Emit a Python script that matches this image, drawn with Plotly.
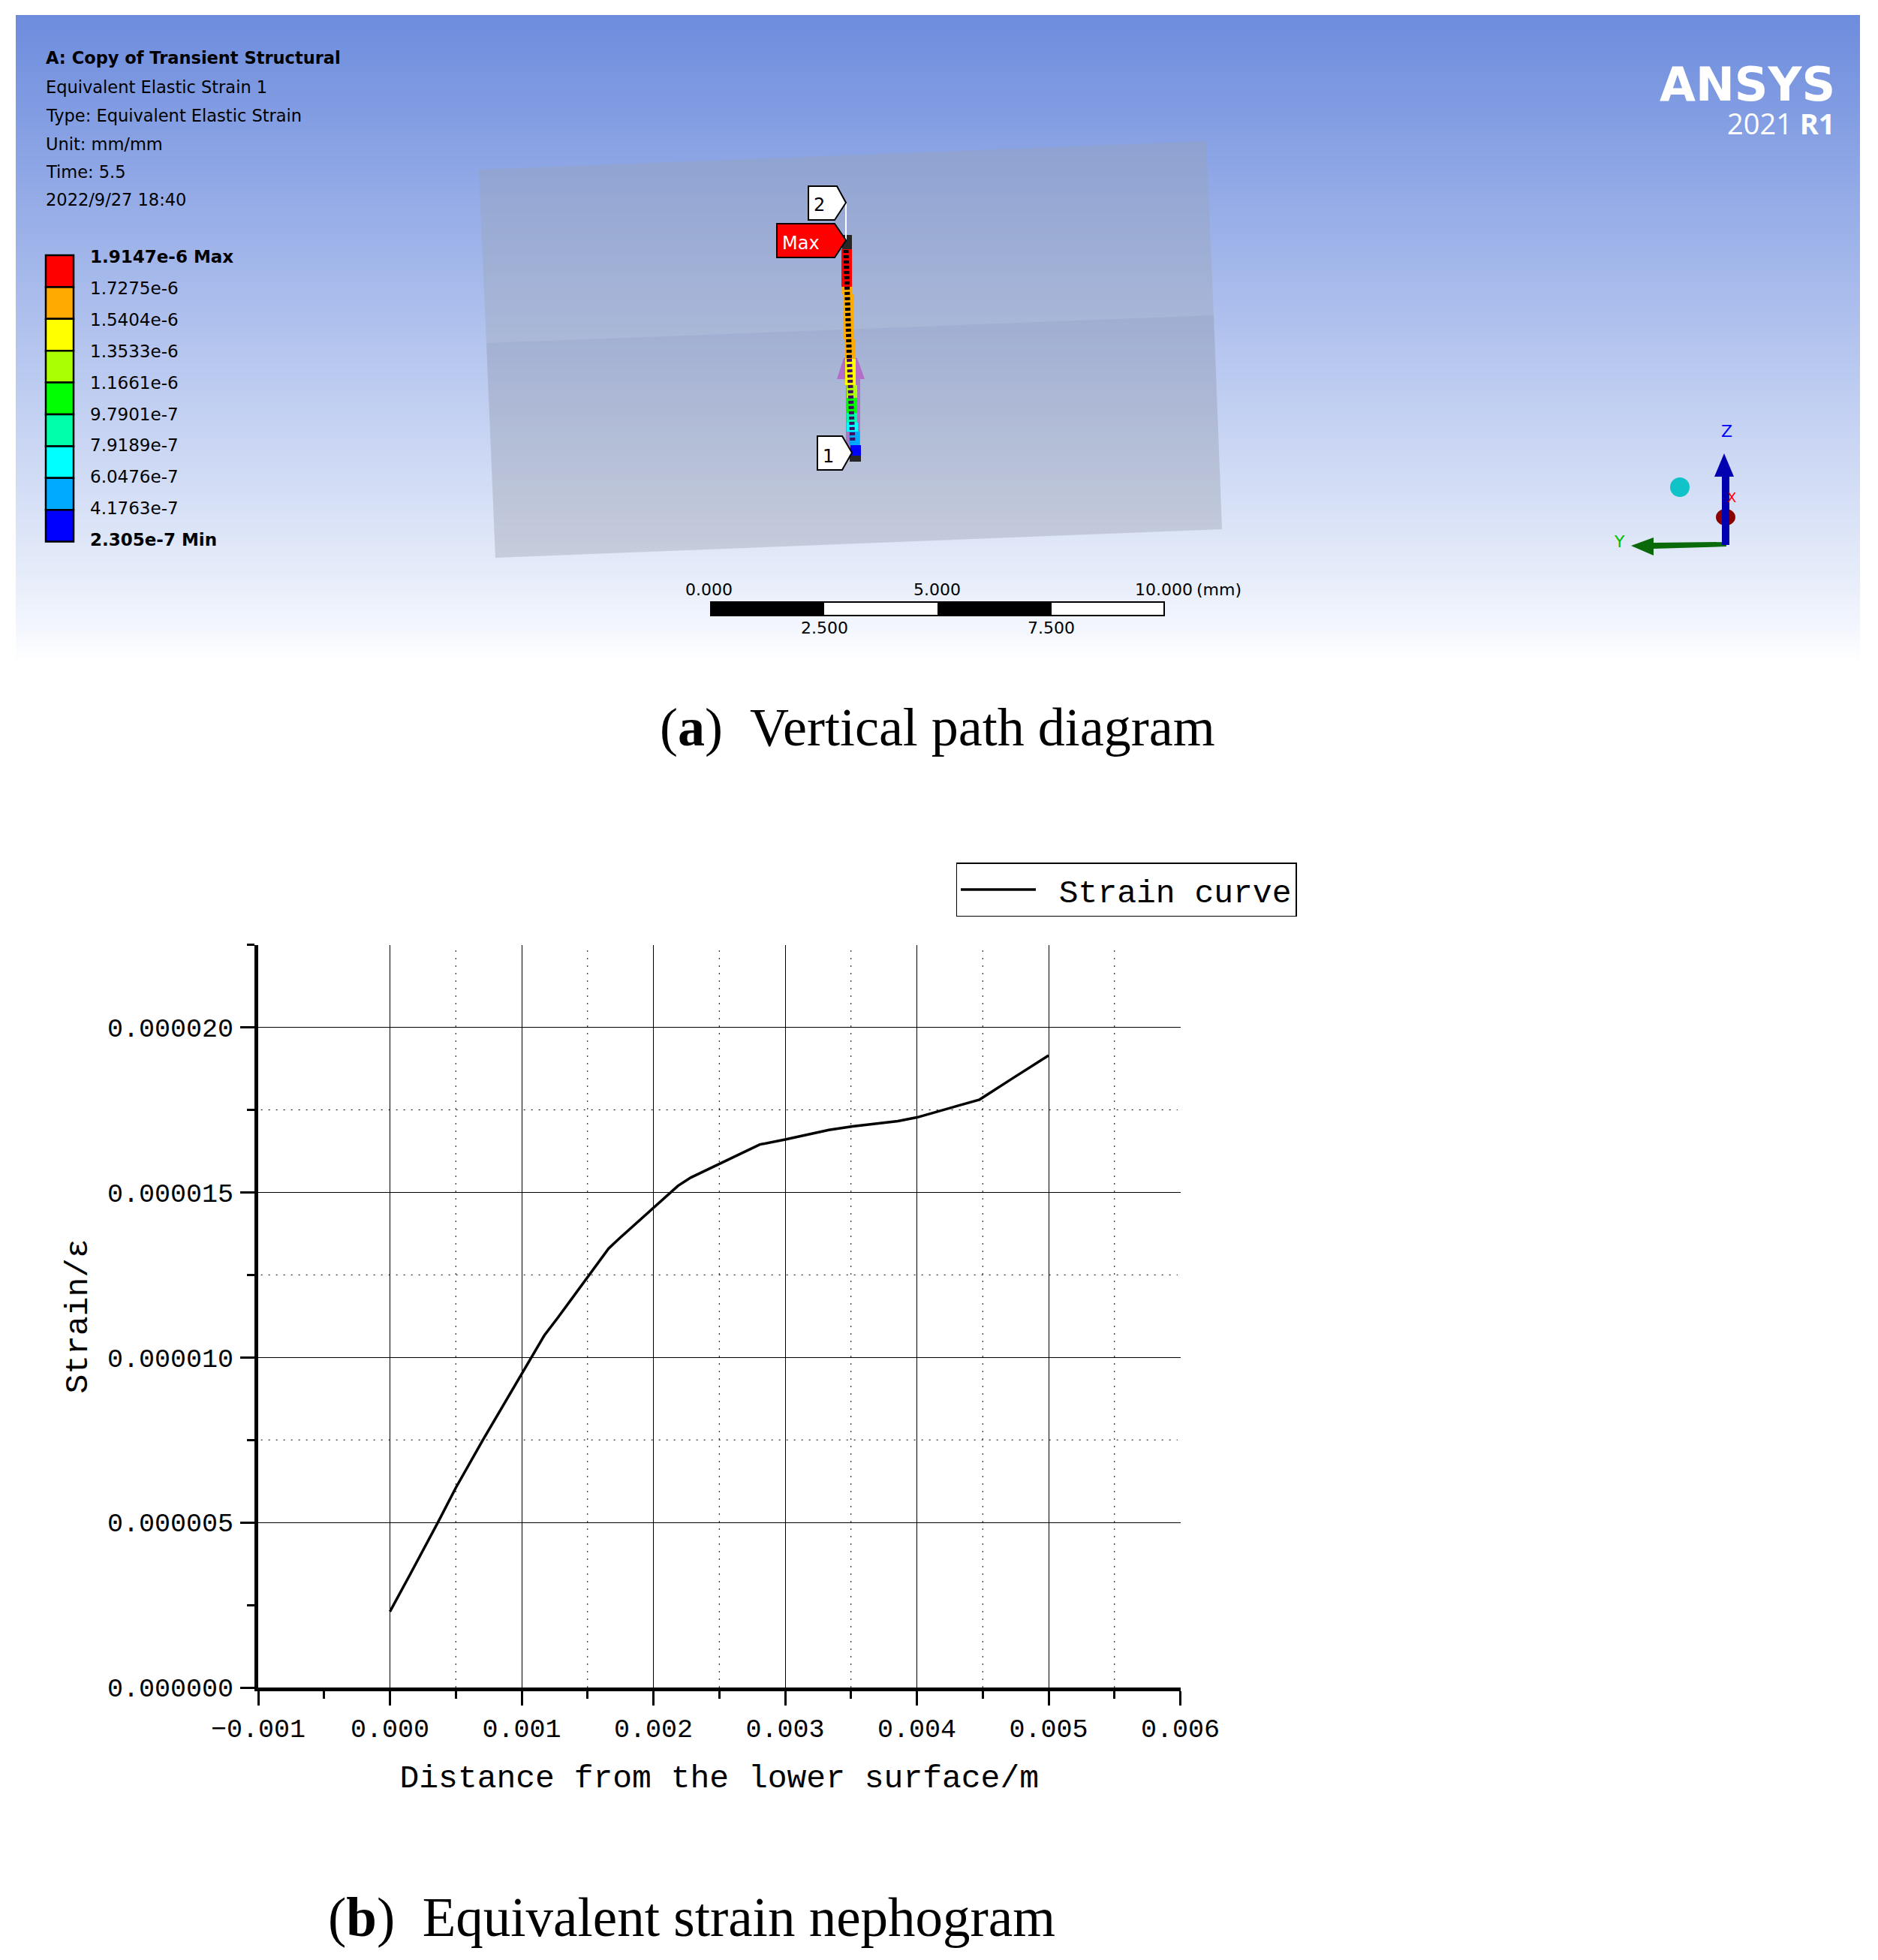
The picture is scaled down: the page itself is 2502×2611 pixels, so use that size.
import numpy as np
import plotly.graph_objects as go

W, H = 2502, 2611
PAGE_MARGIN = 8  # the page body keeps its default 8px margin
FW, FH = W - 2 * PAGE_MARGIN, H - 2 * PAGE_MARGIN

# ---- panel (b) data ----
distance_m = [0.0, 0.00005, 0.000155, 0.000364, 0.0005, 0.000706, 0.00084, 0.001, 0.001174,
              0.001276, 0.00166, 0.00174, 0.00194, 0.002187, 0.002285, 0.002497, 0.002628,
              0.002808, 0.003, 0.00312, 0.003332, 0.003512, 0.003856, 0.004, 0.00423,
              0.004476, 0.004721, 0.005]
strain = [2.30e-6, 2.68e-6, 3.44e-6, 5.0e-6, 6.05e-6, 7.5e-6, 8.42e-6, 9.5e-6, 1.068e-5,
          1.121e-5, 1.33e-5, 1.36e-5, 1.431e-5, 1.52e-5, 1.545e-5, 1.586e-5, 1.611e-5,
          1.645e-5, 1.660e-5, 1.67e-5, 1.689e-5, 1.70e-5, 1.716e-5, 1.727e-5, 1.753e-5,
          1.781e-5, 1.844e-5, 1.915e-5]
series_name = "\u00a0Strain curve"
x_title = "Distance from the lower surface/m"
y_title = "Strain/ε"
minor_grid_x = [0.0005, 0.0015, 0.0025, 0.0035, 0.0045, 0.0055]
minor_grid_y = [7.5e-6, 1.25e-5, 1.75e-5]

# ---- panel (a) content ----
header_lines = ["Equivalent Elastic Strain 1", "Type: Equivalent Elastic Strain",
                "Unit: mm/mm", "Time: 5.5", "2022/9/27 18:40"]
header_title = "A: Copy of Transient Structural"
legend_labels = ["<b>1.9147e-6 Max</b>", "1.7275e-6", "1.5404e-6", "1.3533e-6", "1.1661e-6",
                 "9.7901e-7", "7.9189e-7", "6.0476e-7", "4.1763e-7", "<b>2.305e-7 Min</b>"]
legend_colors = ["#ff0000", "#ffaa00", "#ffff00", "#aaff00", "#00ff00",
                 "#00ffaa", "#00ffff", "#00aaff", "#0000ff"]
path_bands = [("#262626", 1122, 1135, 313, 332), ("#ff0000", 1121, 1135, 332, 382),
              ("#ffaa00", 1121, 1135, 382, 392), ("#ffaa00", 1123, 1137, 392, 452),
              ("#ffaa00", 1126, 1139, 452, 478), ("#ffff00", 1126, 1140, 478, 513),
              ("#aaff00", 1128, 1142, 513, 530), ("#00ff00", 1128, 1142, 530, 550),
              ("#00ffaa", 1128, 1142, 550, 563), ("#00ffff", 1128, 1143, 563, 575),
              ("#00aaff", 1131, 1145, 575, 593), ("#0000ff", 1133, 1147, 593, 607),
              ("#262626", 1132, 1147, 607, 615)]
bg_stops_y = [20, 325, 780, 835, 882]
bg_stops_rgb = [(109, 140, 221), (158, 179, 233), (232, 238, 250), (243, 246, 254), (255, 255, 255)]

MONO = "Liberation Mono"
UI = "DejaVu Sans"
SERIF = "Liberation Serif"


def X(px):
    return (px - PAGE_MARGIN) / FW


def Y(py):
    return 1 - (py - PAGE_MARGIN) / FH


def poly(points, fill, line=None, lw=0):
    d = "M " + " L ".join(f"{X(a):.5f},{Y(b):.5f}" for a, b in points) + " Z"
    return dict(type="path", xref="paper", yref="paper", path=d, fillcolor=fill, layer="above",
                line=dict(color=line or "rgba(0,0,0,0)", width=lw))


def rect(x0, x1, y0, y1, fill, line=None, lw=0):
    return poly([(x0, y0), (x1, y0), (x1, y1), (x0, y1)], fill, line, lw)


def ellipse(cx, cy, rx, ry, fill):
    return dict(type="circle", xref="paper", yref="paper", x0=X(cx - rx), x1=X(cx + rx),
                y0=Y(cy + ry), y1=Y(cy - ry), fillcolor=fill, layer="above", line=dict(width=0))


def segment(x0, y0, x1, y1, color, lw, dash="solid"):
    return dict(type="line", xref="paper", yref="paper", x0=X(x0), x1=X(x1), y0=Y(y0), y1=Y(y1),
                layer="above", line=dict(color=color, width=lw, dash=dash))


def text(px, py, s, size, color="#000000", family=UI, anchor="left"):
    return dict(x=X(px), y=Y(py), xref="paper", yref="paper", text=s, showarrow=False,
                xanchor=anchor, yanchor="middle", align=anchor, borderpad=0,
                font=dict(family=family, size=size, color=color))


shapes, notes = [], []

# dotted minor grid of panel (b): only the interior divisions carry a line
DOT = "2px,8px"
for v in minor_grid_x:
    shapes.append(dict(type="line", xref="x", yref="y domain", x0=v, x1=v, y0=0, y1=0.996,
                       layer="below", line=dict(color="#000000", width=1, dash=DOT)))
for v in minor_grid_y:
    shapes.append(dict(type="line", xref="x domain", yref="y", x0=0.003, x1=0.997, y0=v, y1=v,
                       layer="below", line=dict(color="#000000", width=1, dash=DOT)))

# model plates
shapes.append(poly([(638, 226), (1607, 188), (1617, 420), (648, 457)], "rgba(155,160,168,0.31)"))
shapes.append(poly([(648, 457), (1617, 420), (1628, 705), (660, 743)], "rgba(118,124,134,0.26)"))

# purple load arrow
shapes.append(poly([(1124, 477), (1142, 477), (1152, 505), (1115, 505)], "#b56bc8"))
shapes.append(rect(1127, 1146, 503, 607, "#a877c4"))

# coloured path, with its dashed element edges
for c, x0, x1, y0, y1 in path_bands:
    shapes.append(rect(x0, x1, y0, y1, c))
shapes.append(segment(1127, 333, 1131.5, 478, "#000000", 7, "4px,3px"))
shapes.append(segment(1131.5, 478, 1136, 590, "#3f0a5e", 7, "4px,3px"))

# probe labels
shapes.append(segment(1127, 270, 1127, 320, "#ffffff", 2))
shapes.append(poly([(1077, 248), (1115, 248), (1127, 270), (1112, 293), (1077, 293)], "#ffffff", "#000000", 2))
shapes.append(poly([(1035, 298), (1112, 298), (1127, 320), (1112, 343), (1035, 343)], "#ff0000", "#000000", 2))
shapes.append(poly([(1089, 581), (1122, 581), (1135, 603), (1122, 626), (1089, 626)], "#ffffff", "#000000", 2))
notes += [text(1083, 273, "2", 24),
          text(1041, 324, "Max", 24, "#ffffff"),
          text(1095, 608, "1", 24)]

# header
notes.append(text(60, 77, f"<b>{header_title}</b>", 22.5))
for yy, line in zip([116, 154, 192, 229, 266], header_lines):
    notes.append(text(60, yy, line, 22.5))

# contour legend
top, step = 340.0, 42.4
for i, c in enumerate(legend_colors):
    shapes.append(rect(61, 98, top + i * step, top + (i + 1) * step, c, "#000000", 2.5))
for i, lab in enumerate(legend_labels):
    notes.append(text(119, 342 + i * 41.9, lab, 23))

# scale bar
shapes.append(rect(947, 1551, 802, 820, "#ffffff", "#000000", 2))
shapes.append(rect(947, 1098, 802, 820, "#000000"))
shapes.append(rect(1249, 1401, 802, 820, "#000000"))
for px, py, s in [(945, 785, "0.000"), (1248, 785, "5.000"), (1550, 785, "10.000"),
                  (1624, 785, "(mm)"), (1098, 837, "2.500"), (1400, 837, "7.500")]:
    notes.append(text(px, py, s, 22, anchor="center"))

# triad
shapes.append(ellipse(2238, 649, 13, 13, "#0fc3c8"))
shapes.append(ellipse(2299, 689, 13, 11, "#8b0000"))
shapes.append(poly([(2300, 722), (2203, 723), (2203, 716), (2173, 727), (2203, 740), (2203, 731), (2300, 728)], "#0a6a0a"))
shapes.append(poly([(2297, 604), (2310, 635), (2304, 635), (2304, 726), (2294, 726), (2294, 635), (2284, 635)], "#0000b0"))
notes += [text(2300, 575, "Z", 22, "#0000ff", anchor="center"),
          text(2157, 722, "Y", 22, "#00c000", anchor="center"),
          text(2307, 662, "X", 18, "#ff0000", anchor="center")]

# logo
notes += [text(2446, 112, "<b>ANSYS</b>", 62, "#ffffff", "DejaVu Sans", "right"),
          text(2446, 164, "2021 <b>R1</b>", 38, "#ffffff", "Open Sans", "right")]

# captions
notes += [text(1249, 969, "(<b>a</b>)&nbsp;&nbsp;Vertical path diagram", 72, family=SERIF, anchor="center"),
          text(921, 2554, "(<b>b</b>)&nbsp;&nbsp;Equivalent strain nephogram", 73, family=SERIF, anchor="center"),
          ]

fig = go.Figure()

# background gradient of the simulation window
rows = np.arange(20, 884, 2)
bg_scale = [[(y - bg_stops_y[0]) / (bg_stops_y[-1] - bg_stops_y[0]), f"rgb{c}"]
            for y, c in zip(bg_stops_y, bg_stops_rgb)]
fig.add_trace(go.Heatmap(x=[0, 2457], y=rows, z=[[float(r), float(r)] for r in rows],
                         zmin=bg_stops_y[0], zmax=bg_stops_y[-1], colorscale=bg_scale,
                         showscale=False, hoverinfo="skip", xaxis="x2", yaxis="y2", zsmooth="best"))

fig.add_trace(go.Scatter(x=distance_m, y=strain, mode="lines", name=series_name,
                         line=dict(color="#000000", width=3.5), showlegend=True))

fig.update_layout(
    template="none",
    width=FW, height=FH, autosize=False, margin=dict(l=0, r=0, t=0, b=0),
    paper_bgcolor="#ffffff", plot_bgcolor="rgba(0,0,0,0)",
    shapes=shapes, annotations=notes,
    xaxis=dict(domain=[X(344), X(1572.5)], range=[-0.001, 0.006], dtick=0.001, tick0=0,
               automargin=False,
               tickformat=".3f", ticks="outside", ticklen=19, tickwidth=3, tickcolor="#000000",
               showline=True, linecolor="#000000", linewidth=5, zeroline=False,
               showgrid=True, gridcolor="#000000", gridwidth=1,
               minor=dict(dtick=0.0005, tick0=0, ticks="outside", ticklen=10, tickwidth=3,
                          tickcolor="#000000", showgrid=False),
               tickfont=dict(family=MONO, size=35, color="#000000"), ticklabelstandoff=0,
               title=dict(text=x_title, font=dict(family=MONO, size=43, color="#000000"), standoff=28),
               anchor="y"),
    yaxis=dict(domain=[Y(2248), Y(1258.6)], range=[0, 2.25e-5], dtick=5e-6, tick0=0,
               automargin=False,
               tickformat=".6f", ticks="outside", ticklen=19, tickwidth=3, tickcolor="#000000",
               showline=True, linecolor="#000000", linewidth=5, zeroline=False,
               showgrid=True, gridcolor="#000000", gridwidth=1,
               minor=dict(dtick=2.5e-6, tick0=0, ticks="outside", ticklen=10, tickwidth=3,
                          tickcolor="#000000", showgrid=False),
               tickfont=dict(family=MONO, size=35, color="#000000"), ticklabelstandoff=2,
               title=dict(text=y_title, font=dict(family=MONO, size=43, color="#000000"), standoff=14),
               anchor="x"),
    xaxis2=dict(domain=[X(21), X(2478)], range=[0, 2457], visible=False, anchor="y2", fixedrange=True),
    yaxis2=dict(domain=[Y(884), Y(20)], range=[884, 20], visible=False, anchor="x2", fixedrange=True),
    legend=dict(x=X(1727.5), xanchor="right", y=Y(1149), yanchor="top", bgcolor="#ffffff",
                bordercolor="#000000", borderwidth=1.5, itemwidth=100,
                font=dict(family=MONO, size=43, color="#000000")),
)

fig.write_html("out.html")
